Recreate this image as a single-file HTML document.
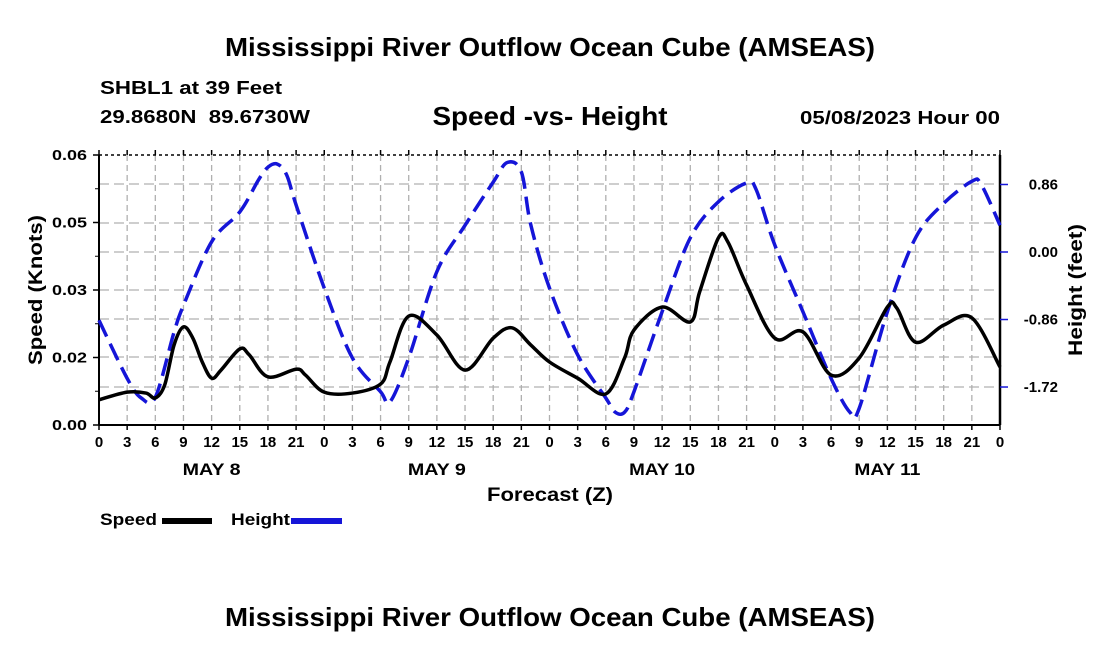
<!DOCTYPE html>
<html><head><meta charset="utf-8"><style>
body{margin:0;background:#fff}
svg{display:block;font-family:"Liberation Sans",Arial,sans-serif;font-weight:bold}
</style></head><body>
<svg id="chart" width="1100" height="650" viewBox="0 0 1100 650">
<text x="550" y="56" font-size="26" text-anchor="middle" textLength="650" lengthAdjust="spacingAndGlyphs">Mississippi River Outflow Ocean Cube (AMSEAS)</text>
<text x="100" y="94" font-size="18" textLength="182" lengthAdjust="spacingAndGlyphs">SHBL1 at 39 Feet</text>
<text x="100" y="123" font-size="18" textLength="210" lengthAdjust="spacingAndGlyphs" xml:space="preserve">29.8680N  89.6730W</text>
<text x="550" y="125" font-size="26" text-anchor="middle" textLength="235" lengthAdjust="spacingAndGlyphs">Speed -vs- Height</text>
<text x="1000" y="124" font-size="18" text-anchor="end" textLength="200" lengthAdjust="spacingAndGlyphs">05/08/2023 Hour 00</text>
<g id="grid"></g>
<g id="axes"></g>
<g id="series"></g>
<text transform="translate(42,290) rotate(-90)" font-size="19" text-anchor="middle" textLength="150" lengthAdjust="spacingAndGlyphs">Speed (Knots)</text>
<text transform="translate(1082,290) rotate(-90)" font-size="19" text-anchor="middle" textLength="132" lengthAdjust="spacingAndGlyphs">Height (feet)</text>
<text x="550" y="501" font-size="19" text-anchor="middle" textLength="126" lengthAdjust="spacingAndGlyphs">Forecast (Z)</text>
<g>
<text x="100" y="525" font-size="17" textLength="57" lengthAdjust="spacingAndGlyphs">Speed</text>
<rect x="162" y="518" width="50" height="6" fill="#000"/>
<text x="231" y="525" font-size="17" textLength="59" lengthAdjust="spacingAndGlyphs">Height</text>
<rect x="291" y="518" width="51" height="6" fill="#1515d8"/>
</g>
<text x="550" y="626" font-size="26" text-anchor="middle" textLength="650" lengthAdjust="spacingAndGlyphs">Mississippi River Outflow Ocean Cube (AMSEAS)</text>
</svg>
<script>
const speedHours=[0,3,5,6,7,8,9,10,11,12,13,15,16,18,21,22,24,27,30,31,33,36,39,42,44,46,48,51,54,56,57,60,63,64,66,67,69,72,75,78,81,84,85,87,90,93,96];
const speedValues=[0.0056,0.0073,0.0071,0.0060,0.0089,0.0178,0.0218,0.0193,0.0140,0.0104,0.0122,0.0169,0.0156,0.0107,0.0124,0.0111,0.0073,0.0071,0.0091,0.0140,0.0242,0.0200,0.0122,0.0193,0.0216,0.0178,0.0140,0.0104,0.0069,0.0149,0.0211,0.0262,0.0229,0.0296,0.0416,0.0407,0.0311,0.0193,0.0207,0.0111,0.0149,0.0262,0.0260,0.0184,0.0222,0.0238,0.0129];
const heightHours=[0,3,4.5,6,8,9,12,15,17,18,19,20,21,24,27,30,31,33,36,39,42,43.5,45,46,48,51,54,55,56,57,60,63,66,69,70,72,75,78,80,81,84,87,90,93,94,96];
const heightValues=[-0.87,-1.61,-1.86,-1.85,-1.02,-0.68,0.13,0.51,0.92,1.08,1.12,0.98,0.60,-0.46,-1.35,-1.78,-1.91,-1.35,-0.25,0.34,0.89,1.14,1.02,0.35,-0.46,-1.31,-1.86,-2.04,-2.04,-1.78,-0.76,0.18,0.64,0.88,0.80,0.09,-0.76,-1.61,-2.04,-1.99,-0.76,0.18,0.62,0.90,0.86,0.34];
const leftTickValues=[0,0.015,0.03,0.045,0.06];
const leftTickLabels=["0.00","0.02","0.03","0.05","0.06"];
const rightTickValues=[0.86,0,-0.86,-1.72];
const rightTickLabels=["0.86","0.00","-0.86","-1.72"];
const xTickHours=[0,3,6,9,12,15,18,21,24,27,30,33,36,39,42,45,48,51,54,57,60,63,66,69,72,75,78,81,84,87,90,93,96];
const dayLabels=["MAY 8","MAY 9","MAY 10","MAY 11"];
const dayCenters=[12,36,60,84];

const X0=99,X1=1000,Y0=155,Y1=425;
const x=h=>X0+(X1-X0)*h/96;
const yL=v=>Y1-(Y1-Y0)*v/0.06;
const yR=v=>252-78.5*v;
const NS="http://www.w3.org/2000/svg";
function mk(parent,tag,attrs){const e=document.createElementNS(NS,tag);for(const k in attrs)e.setAttribute(k,attrs[k]);document.getElementById(parent).appendChild(e);return e;}
for(const h of xTickHours){const l=mk('grid','line',{x1:x(h),x2:x(h),y1:Y0,y2:Y1,stroke:'#b0b0b0','stroke-width':1.3,'stroke-dasharray':'6,4'});

}
for(const yy of [184,223,252,290,319,357,387]){const l=mk('grid','line',{x1:X0,x2:X1,y1:yy,y2:yy,stroke:'#b0b0b0','stroke-width':1.3,'stroke-dasharray':'10,5'});

}
mk('axes','line',{x1:X0,x2:X1,y1:Y0,y2:Y0,stroke:'#000','stroke-width':1.5,'stroke-dasharray':'3,3'});
mk('axes','line',{x1:X0,x2:X1,y1:Y1,y2:Y1,stroke:'#000','stroke-width':2});
mk('axes','line',{x1:X0,x2:X0,y1:Y0,y2:Y1,stroke:'#000','stroke-width':2});
mk('axes','line',{x1:X1,x2:X1,y1:Y0,y2:Y1,stroke:'#000','stroke-width':2.5});
leftTickValues.forEach((v,i)=>{mk('axes','line',{x1:X0-6,x2:X0,y1:yL(v),y2:yL(v),stroke:'#000','stroke-width':1.5});
const t=mk('axes','text',{x:X0-12,y:yL(v)+5,'font-size':15,'text-anchor':'end',textLength:35,lengthAdjust:'spacingAndGlyphs'});t.textContent=leftTickLabels[i];


if(i<4){const m=(yL(v)+yL(leftTickValues[i+1]))/2;mk('axes','line',{x1:X0-4,x2:X0,y1:m,y2:m,stroke:'#000','stroke-width':1});}});
rightTickValues.forEach((v,i)=>{mk('axes','line',{x1:X1,x2:X1+8,y1:yR(v),y2:yR(v),stroke:'#1515d8','stroke-width':1.5});
const t=mk('axes','text',{x:X1+58,y:yR(v)+5,'font-size':15,'text-anchor':'end'});t.textContent=rightTickLabels[i];

});
xTickHours.forEach(h=>{mk('axes','line',{x1:x(h),x2:x(h),y1:Y1,y2:Y1+5,stroke:'#000','stroke-width':1.5});
mk('axes','line',{x1:x(h),x2:x(h),y1:Y0-5,y2:Y0,stroke:'#000','stroke-width':1.5});
const t=mk('axes','text',{x:x(h),y:Y1+22,'font-size':15,'text-anchor':'middle'});t.textContent=String(h%24);

});
dayLabels.forEach((d,i)=>{const t=mk('axes','text',{x:x(dayCenters[i]),y:Y1+50,'font-size':17,'text-anchor':'middle',textLength:(d.length>5?66:58),lengthAdjust:'spacingAndGlyphs'});t.textContent=d;

});
function smooth(pts){let d=`M${pts[0][0]},${pts[0][1]}`;for(let i=0;i<pts.length-1;i++){const p0=pts[Math.max(0,i-1)],p1=pts[i],p2=pts[i+1],p3=pts[Math.min(pts.length-1,i+2)];
d+=` C${p1[0]+(p2[0]-p0[0])/6},${p1[1]+(p2[1]-p0[1])/6} ${p2[0]-(p3[0]-p1[0])/6},${p2[1]-(p3[1]-p1[1])/6} ${p2[0]},${p2[1]}`;}return d;}
const hp=mk('series','path',{d:smooth(heightHours.map((h,i)=>[x(h),yR(heightValues[i])])),fill:'none',stroke:'#1515d8','stroke-width':3.5,'stroke-dasharray':'18,8'});


const sp=mk('series','path',{d:smooth(speedHours.map((h,i)=>[x(h),yL(speedValues[i])])),fill:'none',stroke:'#000','stroke-width':3.5});


</script>
</body></html>
